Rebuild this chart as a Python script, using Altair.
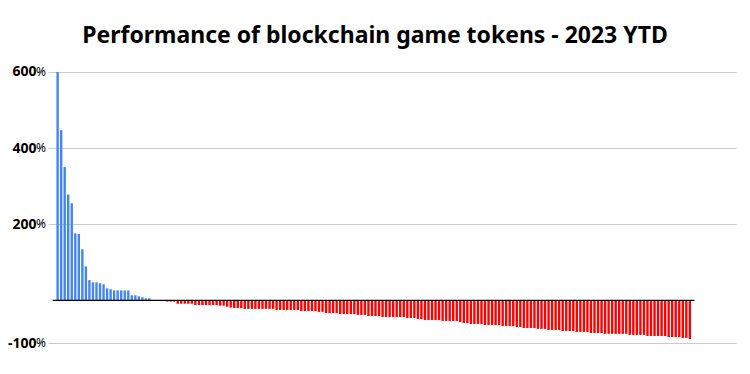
import altair as alt
import pandas as pd

# ---- data (percent change, 2023 YTD) ----
blue = [600, 447, 350, 278, 255, 176, 174, 134, 89, 53, 47, 47, 45, 42,
        31.5, 29, 26, 26, 26, 26, 26, 13, 13, 10.5, 8, 5.3, 5.3]
near_zero = [0.5, 0.3, -0.3, -0.6]
red1 = [-3, -3, -3, -8, -8, -8, -8, -8, -11, -11, -11, -11, -11, -11, -11,
        -12.5, -12.5, -15, -17]
red2 = [-18, -18, -18, -20, -20, -20, -20, -20, -20, -20, -20, -20,
        -22.5, -22.5, -22.5, -22.5, -22.5, -22.5, -22.5, -25, -25, -25, -25, -25,
        -27, -27]
red3 = [-29.5, -29.5, -29.5, -29.5, -32, -32, -32, -32, -32, -34, -34, -34,
        -36.5, -36.5, -36.5, -36.5, -39, -39, -39, -39, -39, -39, -39, -41, -41]
red4 = [-41, -43.5, -43.5, -46, -46, -46, -46, -46, -48, -48, -48, -48, -48,
        -50.5, -53, -53, -55, -55, -55, -55, -57.5, -57.5, -57.5, -57.5, -57.5]
red5 = [-60, -60, -60, -60, -62, -62, -64.5, -64.5, -64.5, -64.5, -66.5, -66.5,
        -66.5, -69, -69, -69, -69, -71.5, -71.5, -71.5, -71.5, -73.5, -73.5,
        -73.5, -73.5]
red6 = [-76, -76, -76, -76, -78, -78, -78, -78, -78, -78, -78, -80.5, -80.5,
        -80.5, -80.5, -80.5, -83, -83, -83, -83, -83, -83, -85.5, -85.5, -85.5,
        -85.5, -87.5, -87.5, -90]
tick_values = [600, 400, 200, -100]
title_text = "Performance of blockchain game tokens - 2023 YTD"

values = blue + near_zero + red1 + red2 + red3 + red4 + red5 + red6
df = pd.DataFrame({"idx": list(range(len(values))), "value": values})
ticks_df = pd.DataFrame({"tick": tick_values})
zero_df = pd.DataFrame({"x0": [-1.4], "x1": [180.3], "y0": [0]})

W, H = 688, 271.3
FONT = "Noto Sans"
y_scale = alt.Scale(domain=[-100, 0, 600], range=[H, 228.3, 0], nice=False, zero=False)
x_scale = alt.Scale(domain=[-1.31, 190.65], nice=False, zero=False)

bars = alt.Chart(df).mark_bar(width=2.4).encode(
    x=alt.X("idx:Q", scale=x_scale, axis=None),
    y=alt.Y("value:Q", scale=y_scale, title=None,
            axis=alt.Axis(values=tick_values, grid=True, gridColor="#cccccc",
                          gridWidth=1, domain=False, ticks=False, tickSize=0,
                          labelPadding=12, labelFont=FONT, labelFontSize=14,
                          labelFontWeight="bold", labelColor="black",
                          labelExpr="datum.value", title=None)),
    y2=alt.datum(0),
    color=alt.condition("datum.value >= 0", alt.value("#4285f4"), alt.value("#ff0000")),
)

zero = alt.Chart(zero_df).mark_rule(color="black", strokeWidth=1.3).encode(
    x=alt.X("x0:Q", scale=x_scale, title=None),
    x2="x1:Q",
    y=alt.Y("y0:Q", scale=y_scale, title=None),
)

pct = alt.Chart(ticks_df).mark_text(
    align="left", baseline="middle", font=FONT, fontSize=12, color="black"
).encode(
    x=alt.value(-12),
    y=alt.Y("tick:Q", scale=y_scale, title=None),
    text=alt.value("%"),
)

chart = alt.layer(bars, zero, pct).properties(
    width=W, height=H,
    autosize=alt.AutoSizeParams(type="none"),
    padding={"left": 40, "top": 64, "right": 2, "bottom": 23},
    title=alt.Title(title_text, font=FONT, fontSize=23, fontWeight="bold",
                    color="black", anchor="middle", frame="group", dx=-17,
                    baseline="alphabetic", offset=27, dy=28),
).configure_view(stroke=None)

chart.save("out.html", embed_options={"renderer": "svg", "actions": False})
